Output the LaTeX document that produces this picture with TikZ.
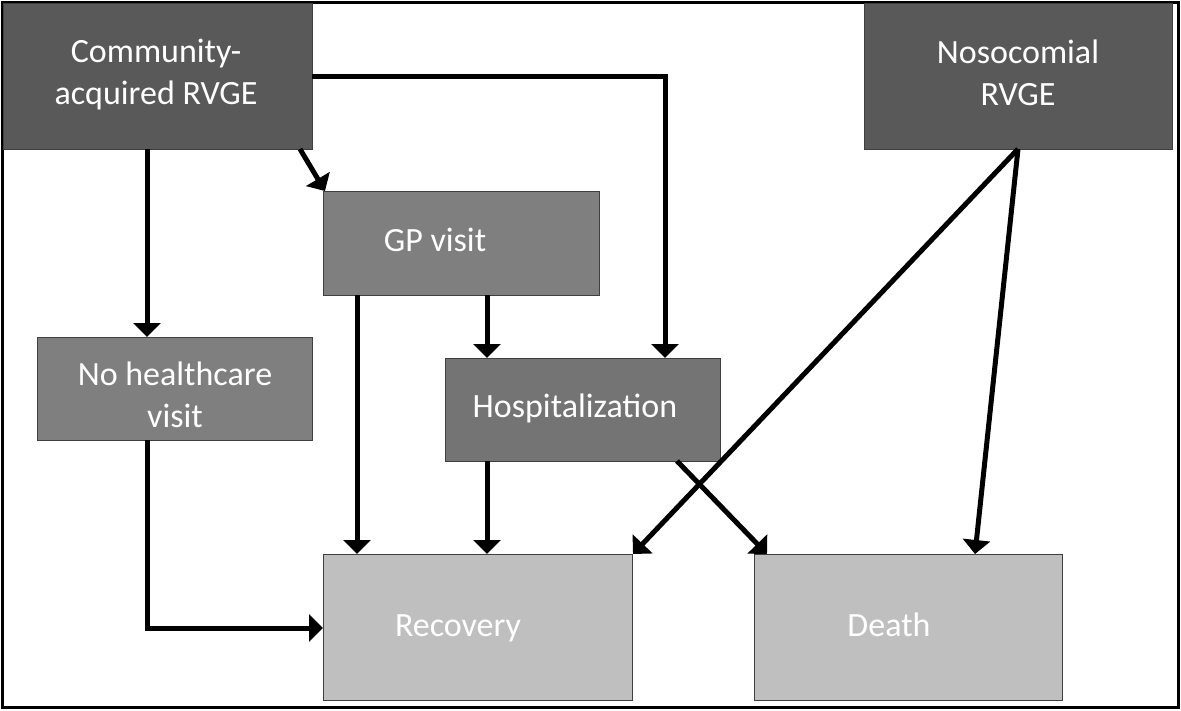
\documentclass[tikz,border=0pt]{standalone}
\usepackage{fontspec}
\setmainfont{Carlito}
\usetikzlibrary{arrows.meta}
\definecolor{cdark}{HTML}{595959}
\definecolor{cmid}{HTML}{7F7F7F}
\definecolor{chosp}{HTML}{747474}
\definecolor{clight}{HTML}{BFBFBF}
\definecolor{cedge}{HTML}{3F3F3F}
\tikzset{
  box/.style={draw=cedge, line width=1pt, anchor=north west, inner sep=0pt, outer sep=0pt},
  lbl/.style={text=white, align=center, font=\fontsize{34}{42}\selectfont, inner sep=0pt},
  arr/.style={line width=5pt, -{Triangle[width=27pt,length=14pt]}},
}
\begin{document}
\begin{tikzpicture}[x=1pt,y=-1pt]
\useasboundingbox (0,0) rectangle (1181,710);
\draw[line width=2.5pt] (2.5,2.5) rectangle (1178.5,707.5);
% boxes
\node[box, fill=cdark, minimum width=309pt, minimum height=146pt] (comm) at (3,3) {};
\node[box, fill=cdark, minimum width=308pt, minimum height=146pt] (nos) at (864,3) {};
\node[box, fill=cmid, minimum width=276pt, minimum height=104pt] (gp) at (323,191) {};
\node[box, fill=cmid, minimum width=275pt, minimum height=103pt] (nohc) at (37,337) {};
\node[box, fill=chosp, minimum width=275pt, minimum height=103pt] (hosp) at (445,358) {};
\node[box, fill=clight, minimum width=309pt, minimum height=146pt] (rec) at (323,554) {};
\node[box, fill=clight, minimum width=308pt, minimum height=146pt] (death) at (754,554) {};
% labels
\node[lbl] (tcomm) at (156,75) {Community-\\acquired RVGE};
\node[lbl] (tnos) at (1018,73) {Nosocomial\\RVGE};
\node[lbl] (tgp) at (435,240) {GP visit};
\node[lbl] (tnohc) at (175,395) {No healthcare\\visit};
\node[lbl] (thosp) at (575,408) {Hospitalization};
\node[lbl] (trec) at (458,628) {Recovery};
\node[lbl] (tdeath) at (889,625) {Death};
% arrows
\draw[arr] ([xshift=144pt]comm.south west) -- ([xshift=110pt]nohc.north west);
\draw[arr] ([xshift=-12pt]comm.south east) -- ([xshift=2pt]gp.north west);
\draw[arr] ([yshift=-73pt]comm.north east) -| ([xshift=220pt]hosp.north west);
\draw[arr] ([xshift=34pt]gp.south west) -- ([xshift=34pt]rec.north west);
\draw[arr] ([xshift=164pt]gp.south west) -- ([xshift=42pt]hosp.north west);
\draw[arr] ([xshift=42pt]hosp.south west) -- ([xshift=164pt]rec.north west);
\draw[arr] ([xshift=232pt]hosp.south west) -- ([xshift=13pt]death.north west);
\draw[arr] ([xshift=154pt]nos.south west) -- ([xshift=1pt]rec.north east);
\draw[arr] ([xshift=154pt]nos.south west) -- ([xshift=221pt]death.north west);
\draw[arr] ([xshift=110pt]nohc.south west) |- ([yshift=-74pt]rec.north west);
\end{tikzpicture}
\end{document}
